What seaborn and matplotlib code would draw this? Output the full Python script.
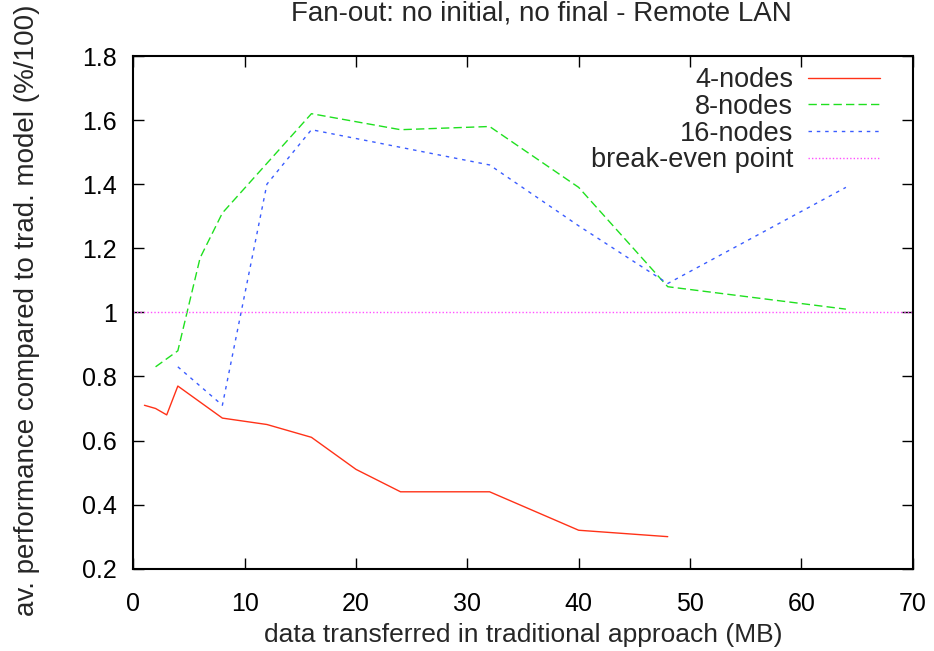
import matplotlib
matplotlib.use("Agg")
import matplotlib.pyplot as plt
from matplotlib.ticker import FuncFormatter, MultipleLocator
import seaborn as sns

# Measured performance ratios (parallel / traditional) per amount of data
x_4nodes = [1, 2, 3, 4, 8, 12, 16, 20, 24, 32, 40, 48]
y_4nodes = [0.71, 0.70, 0.68, 0.77, 0.67, 0.65, 0.61, 0.51, 0.44, 0.44, 0.32, 0.30]

x_8nodes = [2, 4, 6, 8, 16, 24, 32, 40, 48, 64]
y_8nodes = [0.83, 0.88, 1.17, 1.31, 1.62, 1.57, 1.58, 1.39, 1.08, 1.01]

x_16nodes = [4, 8, 12, 16, 24, 32, 40, 48, 64]
y_16nodes = [0.83, 0.71, 1.40, 1.57, 1.515, 1.46, 1.27, 1.09, 1.39]

x_break_even = [0, 70]
y_break_even = [1, 1]

series_labels = ["4-nodes", "8-nodes", "16-nodes", "break-even point"]

title = "Fan-out: no initial, no final - Remote LAN"
xlabel = "data transferred in traditional approach (MB)"
ylabel = "av. performance compared to trad. model (%/100)"

sns.set_style("ticks")
plt.rcParams["font.family"] = ["Liberation Sans", "DejaVu Sans"]

fig = plt.figure(figsize=(9.34, 6.51), dpi=100)
ax = fig.add_axes([133.3 / 934, 1 - 568.7 / 651,
                   (912.7 - 133.3) / 934, (568.7 - 56) / 651])

lw = 1.0
sns.lineplot(x=x_4nodes, y=y_4nodes, ax=ax, color="#ff3218", lw=lw,
             linestyle="-", label=series_labels[0])
sns.lineplot(x=x_8nodes, y=y_8nodes, ax=ax, color="#1fe01f", lw=lw,
             linestyle=(0, (6, 3)), label=series_labels[1])
sns.lineplot(x=x_16nodes, y=y_16nodes, ax=ax, color="#3a5cff", lw=lw,
             linestyle=(0, (2.5, 3.5)), label=series_labels[2])
sns.lineplot(x=x_break_even, y=y_break_even, ax=ax, color="#ff50ff", lw=lw,
             linestyle=(0, (1, 1.5)), label=series_labels[3])

ax.set_xlim(0, 70)
ax.set_ylim(0.2, 1.8)
ax.xaxis.set_major_locator(MultipleLocator(10))
ax.yaxis.set_major_locator(MultipleLocator(0.2))
ax.yaxis.set_major_formatter(FuncFormatter(lambda v, p: f"{v:g}"))

ax.tick_params(direction="in", top=True, right=True, length=8, width=1,
               labelsize=18, colors="black")
ax.tick_params(axis="x", pad=17)
ax.tick_params(axis="y", pad=12)
for sp in ax.spines.values():
    sp.set_linewidth(1.5)
    sp.set_color("black")

ax.set_xlabel(xlabel, fontsize=19, labelpad=5)
ax.set_ylabel(ylabel, fontsize=20, labelpad=30)
ax.yaxis.label.set_y(0.505)
fig.text(541 / 934, 1 - 14 / 651, title, ha="center", va="center",
         fontsize=20)

leg = ax.legend(loc="upper right", bbox_to_anchor=(880 / 934, 1 - 67 / 651),
                bbox_transform=fig.transFigure, frameon=False,
                markerfirst=False, fontsize=19.5, handlelength=2.65,
                handletextpad=0.55, labelspacing=0.03, borderpad=0,
                borderaxespad=0)

fig.savefig("out.png", dpi=100)
